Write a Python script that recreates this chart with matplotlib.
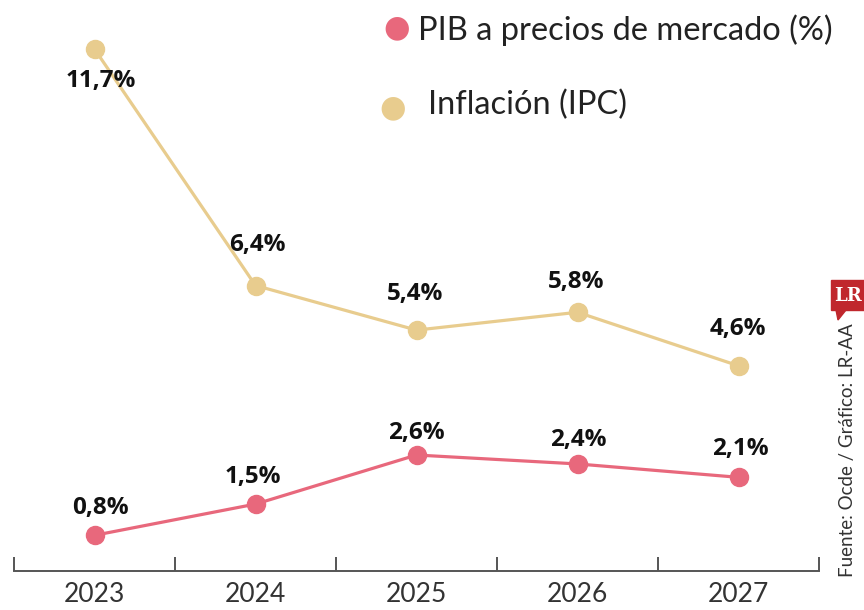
import matplotlib.pyplot as plt
from matplotlib.patches import Rectangle, Polygon

# === DATA ===
years = ['2023', '2024', '2025', '2026', '2027']
pib = [0.8, 1.5, 2.6, 2.4, 2.1]
inflacion = [11.7, 6.4, 5.4, 5.8, 4.6]
pib_labels = ['0,8%', '1,5%', '2,6%', '2,4%', '2,1%']
inf_labels = ['11,7%', '6,4%', '5,4%', '5,8%', '4,6%']

# label offsets in pixels (dx, dy)
pib_offsets = [(6, 27), (-3, 27), (0, 22), (1, 24), (2, 28)]
inf_offsets = [(6, -32), (2, 41), (-1, 36), (-1, 30), (-1, 37)]

col_pib = '#E8687C'
col_inf = '#E8CC8E'
narrow = ['Lato', 'DejaVu Sans']
bold = ['Open Sans', 'DejaVu Sans']

fig = plt.figure(figsize=(8.64, 6.10), dpi=100)
ax = fig.add_axes([14 / 864, 39 / 610, (819 - 14) / 864, 571 / 610])
x = list(range(len(years)))

ax.plot(x, inflacion, '-o', color=col_inf, lw=2.3, markersize=13, zorder=3)
ax.plot(x, pib, '-o', color=col_pib, lw=2.3, markersize=13, zorder=3)

for xi, v, lab, (dx, dy) in zip(x, inflacion, inf_labels, inf_offsets):
    ax.annotate(lab, (xi, v), xytext=(dx, dy), textcoords='offset pixels',
                ha='center', va='center', fontsize=17.5, fontweight='bold',
                family=bold, color='#111111')
for xi, v, lab, (dx, dy) in zip(x, pib, pib_labels, pib_offsets):
    ax.annotate(lab, (xi, v), xytext=(dx, dy), textcoords='offset pixels',
                ha='center', va='center', fontsize=17.5, fontweight='bold',
                family=bold, color='#111111')

ax.set_xlim(-0.5, 4.5)
ax.set_ylim(0, 12.8)
for s in ['top', 'right', 'left']:
    ax.spines[s].set_visible(False)
ax.spines['bottom'].set_color('#555555')
ax.spines['bottom'].set_linewidth(1.4)
ax.set_yticks([])
ax.set_xticks([-0.5, 0.5, 1.5, 2.5, 3.5, 4.5])
ax.set_xticklabels([])
ax.tick_params(axis='x', direction='in', length=10, width=1.4, color='#555555')
for xi, yr in zip(x, years):
    ax.annotate(yr, (xi, 0), xytext=(0, -24), textcoords='offset pixels',
                ha='center', va='center', fontsize=19, fontweight='normal',
                family=narrow, color='#333333', annotation_clip=False)

# legend
fig.text(397 / 864, 1 - 28 / 610, '\u25CF', color=col_pib, fontsize=22,
         ha='center', va='center', family='DejaVu Sans')
fig.text(418 / 864, 1 - 30 / 610, 'PIB a precios de mercado (%)', fontsize=23.5,
         fontweight='normal', family=narrow, color='#222222', ha='left', va='center')
fig.text(393 / 864, 1 - 108 / 610, '\u25CF', color=col_inf, fontsize=22,
         ha='center', va='center', family='DejaVu Sans')
fig.text(428 / 864, 1 - 105 / 610, 'Inflación (IPC)', fontsize=23.5,
         fontweight='normal', family=narrow, color='#222222', ha='left', va='center')

# logo and source
fig.patches.append(Rectangle((831 / 864, 1 - 310 / 610), 33 / 864, 30 / 610,
                             transform=fig.transFigure, color='#C0272D'))
fig.patches.append(Polygon([(836 / 864, 1 - 310 / 610), (846 / 864, 1 - 310 / 610),
                            (838 / 864, 1 - 320 / 610)],
                           transform=fig.transFigure, color='#C0272D'))
fig.text(848 / 864, 1 - 296 / 610, 'LR', color='white', fontsize=13,
         fontweight='bold', family='DejaVu Serif', ha='center', va='center')
fig.text(848 / 864, 1 - 450 / 610, 'Fuente: Ocde / Gráfico: LR-AA', rotation=90,
         fontsize=13.5, fontweight='normal', family=narrow, color='#333333',
         ha='center', va='center')

fig.savefig('out.png', dpi=100, facecolor='white')
